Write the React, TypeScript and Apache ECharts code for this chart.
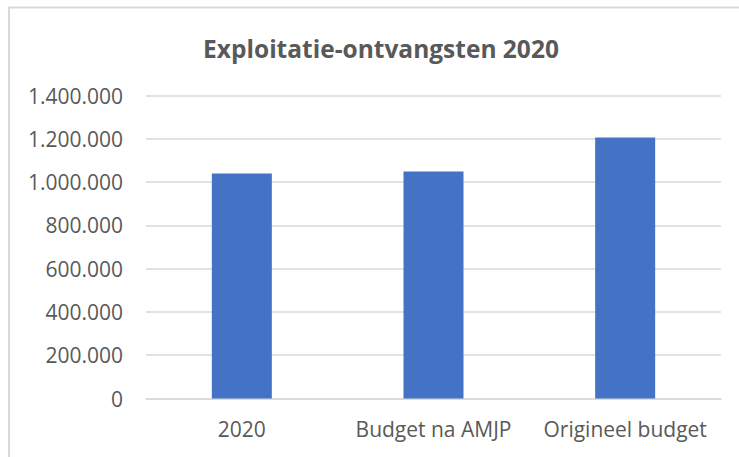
import React, { useEffect, useRef } from "react";
import * as echarts from "echarts";

const categories = ["2020", "Budget na AMJP", "Origineel budget"];
const values = [1040000, 1049000, 1207000];
const yTicks = { min: 0, max: 1400000, interval: 200000 };
const title = "Exploitatie-ontvangsten 2020";

const fmt = (v: number) => String(v).replace(/\B(?=(\d{3})+(?!\d))/g, ".");

export default function App() {
  const ref = useRef<HTMLDivElement>(null);
  useEffect(() => {
    document.body.style.margin = "0";
    const chart = echarts.init(ref.current!, null, { renderer: "svg" });
    const font = "'Open Sans', sans-serif";
    chart.setOption({
      animation: false,
      backgroundColor: "#ffffff",
      title: {
        text: title,
        left: 376,
        textAlign: "center",
        top: 31,
        textStyle: { color: "#595959", fontSize: 24.5, fontWeight: "bold", fontFamily: font },
      },
      graphic: [
        {
          type: "rect",
          shape: { x: 9, y: 7.5, width: 800, height: 500 },
          style: { fill: "none", stroke: "#d9d9d9", lineWidth: 2 },
          silent: true,
        },
      ],
      grid: { left: 146, right: 18, top: 95.7, bottom: 58.5 },
      xAxis: {
        type: "category",
        data: categories,
        axisLine: { lineStyle: { color: "#d9d9d9", width: 1.5 } },
        axisTick: { show: false },
        axisLabel: { color: "#595959", fontSize: 21, fontFamily: font, margin: 20, interval: 0 },
      },
      yAxis: {
        type: "value",
        min: yTicks.min,
        max: yTicks.max,
        interval: yTicks.interval,
        axisLine: { show: false },
        axisTick: { show: false },
        splitLine: { lineStyle: { color: "#d9d9d9", width: 1.5 } },
        axisLabel: { color: "#595959", fontSize: 21, fontFamily: font, margin: 23, formatter: (v: number) => fmt(v) },
      },
      series: [
        {
          type: "bar",
          data: values,
          barWidth: 60,
          itemStyle: { color: "#4472c4" },
        },
      ],
    });
    return () => chart.dispose();
  }, []);
  return <div ref={ref} style={{ width: 739, height: 457 }} />;
}
